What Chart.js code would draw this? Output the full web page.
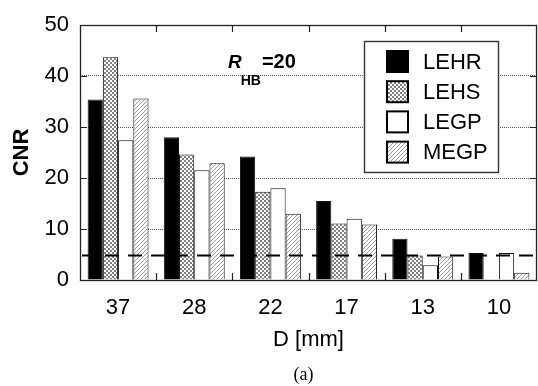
<!DOCTYPE html>
<html>
<head>
<meta charset="utf-8">
<script src="https://cdn.jsdelivr.net/npm/chart.js@4"></script>
<style>
  body { margin: 0; background: #fff; }
  canvas { display: block; }
</style>
</head>
<body>
<canvas id="cnrChart" width="538" height="386"></canvas>
<script>
// CNR vs. lesion diameter, R_HB = 20
const categories = ['37', '28', '22', '17', '13', '10'];
const lehr = [35.4, 28.0, 24.2, 15.5, 8.1, 5.3];
const lehs = [43.7, 24.6, 17.3, 11.1, 4.8, 0];
const legp = [27.4, 21.5, 18.0, 12.0, 2.9, 5.3];
const megp = [35.6, 22.9, 13.0, 10.9, 4.6, 1.4];
const seriesNames = ['LEHR', 'LEHS', 'LEGP', 'MEGP'];
const yTicks = [0, 10, 20, 30, 40, 50];
const roseLimit = 5;

const FONT = '"Liberation Sans", Arial, sans-serif';

function makeTile(size, drawFn) {
    const c = document.createElement('canvas');
    c.width = size; c.height = size;
    const g = c.getContext('2d');
    g.fillStyle = '#fff';
    g.fillRect(0, 0, size, size);
    drawFn(g);
    return document.createElement('canvas').getContext('2d').createPattern(c, 'repeat');
}

// fine checker for LEHS
const checker = makeTile(4, g => {
    g.fillStyle = '#808080';
    g.fillRect(0, 0, 2, 2);
    g.fillRect(2, 2, 2, 2);
});
// light "/" hatch for MEGP
const hatch = makeTile(4, g => {
    g.fillStyle = '#9a9a9a';
    for (let x = 0; x < 4; x++) {
        for (let y = 0; y < 4; y++) {
            if ((x + y) % 4 === 3) g.fillRect(x, y, 1, 1);
        }
    }
});

const fills = ['#000', checker, '#fff', hatch];
const values = [lehr, lehs, legp, megp];

const decorations = {
    id: 'decorations',
    afterDatasetsDraw(chart) {
        const ctx = chart.ctx;
        const area = chart.chartArea;
        const x = chart.scales.x;
        const y = chart.scales.y;
        ctx.save();

        // dashed reference line
        const yr = Math.round(y.getPixelForValue(roseLimit)) + 0.5;
        ctx.strokeStyle = '#000';
        ctx.lineWidth = 2.2;
        ctx.setLineDash([14, 9]);
        ctx.beginPath();
        ctx.moveTo(area.left + 2, yr);
        ctx.lineTo(area.right, yr);
        ctx.stroke();
        ctx.setLineDash([]);

        // frame
        ctx.strokeStyle = '#222';
        ctx.lineWidth = 1.3;
        ctx.strokeRect(area.left + 0.5, area.top + 0.5, area.right - area.left - 1, area.bottom - area.top);

        // inward tick marks
        ctx.lineWidth = 1.2;
        ctx.beginPath();
        for (let i = 0; i < categories.length - 1; i++) {
            const bx = Math.round((x.getPixelForValue(i) + x.getPixelForValue(i + 1)) / 2) + 0.5;
            ctx.moveTo(bx, area.bottom); ctx.lineTo(bx, area.bottom - 7);
            ctx.moveTo(bx, area.top); ctx.lineTo(bx, area.top + 7);
        }
        yTicks.slice(1, -1).forEach(v => {
            const py = Math.round(y.getPixelForValue(v)) + 0.5;
            ctx.moveTo(area.left, py); ctx.lineTo(area.left + 7, py);
            ctx.moveTo(area.right, py); ctx.lineTo(area.right - 7, py);
        });
        ctx.stroke();

        // legend
        const lx = area.right - 173, ly = area.top + 16, lw = 134, lh = 131;
        ctx.fillStyle = '#fff';
        ctx.fillRect(lx, ly, lw, lh);
        ctx.strokeStyle = '#333';
        ctx.lineWidth = 1.4;
        ctx.strokeRect(lx + 0.5, ly + 0.5, lw, lh);
        ctx.font = '22px ' + FONT;
        ctx.textBaseline = 'middle';
        ctx.textAlign = 'left';
        seriesNames.forEach((name, i) => {
            const sy = ly + 10 + i * 30.2;
            ctx.fillStyle = fills[i];
            ctx.fillRect(lx + 23, sy, 21, 21);
            ctx.strokeStyle = '#000';
            ctx.lineWidth = 2;
            ctx.strokeRect(lx + 23, sy, 21, 21);
            ctx.fillStyle = '#000';
            ctx.fillText(name, lx + 59, sy + 11.5);
        });

        // R_HB = 20 annotation
        ctx.fillStyle = '#000';
        ctx.textBaseline = 'alphabetic';
        const ax = area.left + 148, ay = area.top + 43;
        ctx.font = 'italic bold 19px ' + FONT;
        ctx.fillText('R', ax, ay);
        const w = ctx.measureText('R').width;
        ctx.font = 'bold 14px ' + FONT;
        ctx.fillText('HB', ax + w - 1, ay + 17);
        const w2 = ctx.measureText('HB').width;
        ctx.font = 'bold 20px ' + FONT;
        ctx.fillText('=20', ax + w + w2, ay);

        // panel caption
        ctx.font = '18px "Liberation Serif", "Times New Roman", serif';
        ctx.textAlign = 'center';
        ctx.textBaseline = 'middle';
        ctx.fillText('(a)', 303.5, 375);
        ctx.restore();
    }
};

new Chart(document.getElementById('cnrChart'), {
    type: 'bar',
    data: {
        labels: categories,
        datasets: seriesNames.map((name, i) => ({
            label: name,
            data: values[i],
            backgroundColor: fills[i],
            borderColor: '#111',
            borderWidth: 1,
            categoryPercentage: 0.8,
            barPercentage: 1.0
        }))
    },
    options: {
        responsive: false,
        animation: false,
        layout: { padding: { top: 25, left: 0, right: 1, bottom: 28 } },
        plugins: {
            legend: { display: false },
            tooltip: { enabled: false }
        },
        scales: {
            x: {
                grid: { display: false, drawTicks: false },
                border: { display: false },
                ticks: { color: '#000', padding: 15, font: { family: FONT, size: 22 } },
                title: {
                    display: true, text: 'D [mm]', color: '#000',
                    font: { family: FONT, size: 22 }, padding: { top: 0, bottom: 5 }
                },
                afterFit(scale) { scale.height = 78; }
            },
            y: {
                min: 0,
                max: 50,
                afterBuildTicks(scale) { scale.ticks = yTicks.map(v => ({ value: v })); },
                grid: { color: '#555', lineWidth: 1, drawTicks: false },
                border: { display: false, dash: [1, 1] },
                ticks: { color: '#000', padding: 11, font: { family: FONT, size: 22 } },
                title: {
                    display: true, text: 'CNR', color: '#000',
                    font: { family: FONT, size: 22, weight: 'bold' }, padding: { top: 9, bottom: 0 }
                },
                afterFit(scale) { scale.width = 80; }
            }
        }
    },
    plugins: [decorations]
});
</script>
</body>
</html>
